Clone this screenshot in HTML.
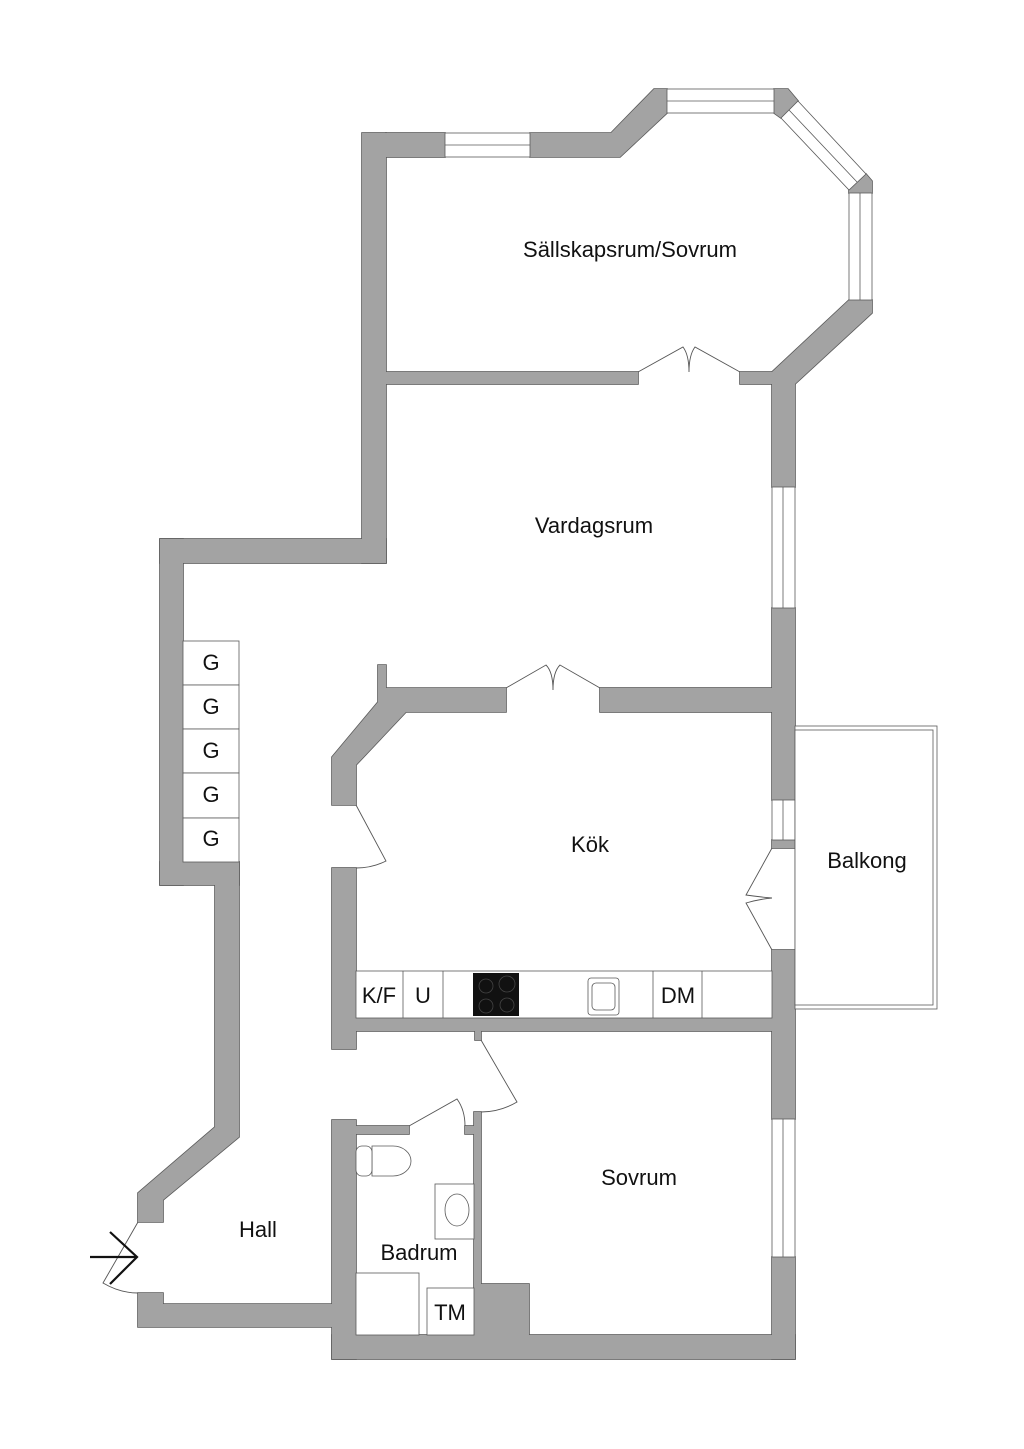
<!DOCTYPE html>
<html><head><meta charset="utf-8"><style>
html,body{margin:0;padding:0;background:#fff;}
svg{display:block;}
text{font-family:"Liberation Sans",sans-serif;fill:#111;}
</style></head><body>
<svg width="1024" height="1449" viewBox="0 0 1024 1449" xmlns="http://www.w3.org/2000/svg">
<defs>
<g id="walls">
<rect x="362" y="133" width="24" height="430"/>
<rect x="386" y="133" width="59" height="24"/>
<polygon points="530,133 611,133 654,89 667,89 667,113 620,157 530,157"/>
<polygon points="774,89 788,89 798,101 781,118 774,113"/>
<polygon points="866,174 872,181 872,193 849,193 849,190"/>
<polygon points="849,300 872,300 872,313 795,384 772,384 772,372"/>
<rect x="386" y="372" width="252" height="12"/>
<rect x="740" y="372" width="32" height="12"/>
<rect x="772" y="384" width="23" height="103"/>
<rect x="772" y="608" width="23" height="192"/>
<rect x="772" y="840" width="23" height="8"/>
<rect x="772" y="950" width="23" height="169"/>
<rect x="772" y="1257" width="23" height="102"/>
<rect x="160" y="539" width="226" height="24"/>
<rect x="160" y="539" width="23" height="346"/>
<rect x="160" y="862" width="79" height="23"/>
<polygon points="215,862 239,862 239,1137 163,1200 163,1222 138,1222 138,1193 215,1127"/>
<polygon points="138,1293 163,1293 163,1304 332,1304 332,1327 138,1327"/>
<rect x="332" y="1120" width="24" height="239"/>
<rect x="332" y="1335" width="463" height="24"/>
<rect x="356" y="1126" width="53" height="8"/>
<rect x="465" y="1126" width="9" height="8"/>
<rect x="474" y="1112" width="7" height="223"/>
<rect x="481" y="1284" width="48" height="51"/>
<rect x="332" y="868" width="24" height="181"/>
<rect x="356" y="1018" width="416" height="13"/>
<rect x="475" y="1031" width="6" height="9"/>
<polygon points="378,665 386,665 386,688 506,688 506,712 406,712 356,765 356,805 332,805 332,757 378,702"/>
<rect x="600" y="688" width="172" height="24"/>
</g>
</defs>
<use href="#walls" fill="#a3a3a3" stroke="#5a5a5a" stroke-width="1.6"/>
<use href="#walls" fill="#a3a3a3" stroke="none"/>
<g fill="#fff" stroke="#5a5a5a" stroke-width="0.8">
<rect x="445" y="133" width="85" height="24"/><line x1="445" y1="145" x2="530" y2="145"/>
<rect x="667" y="89" width="107" height="24"/><line x1="667" y1="101" x2="774" y2="101"/>
<polygon points="798,101 866,174 849,190 781,118"/><line x1="789" y1="110" x2="857" y2="182"/>
<rect x="849" y="193" width="23" height="107"/><line x1="860" y1="193" x2="860" y2="300"/>
<rect x="772" y="487" width="23" height="121"/><line x1="783" y1="487" x2="783" y2="608"/>
<rect x="772" y="800" width="23" height="40"/><line x1="783" y1="800" x2="783" y2="840"/>
<rect x="772" y="1119" width="23" height="138"/><line x1="783" y1="1119" x2="783" y2="1257"/>
<rect x="795" y="726" width="142" height="283"/>
<rect x="795" y="730" width="138" height="275"/>
<rect x="183" y="641" width="56" height="44"/>
<rect x="183" y="685" width="56" height="44"/>
<rect x="183" y="729" width="56" height="44"/>
<rect x="183" y="773" width="56" height="45"/>
<rect x="183" y="818" width="56" height="44"/>
<rect x="356" y="971" width="416" height="47"/>
<line x1="403" y1="971" x2="403" y2="1018"/>
<line x1="443" y1="971" x2="443" y2="1018"/>
<line x1="653" y1="971" x2="653" y2="1018"/>
<line x1="702" y1="971" x2="702" y2="1018"/>
<rect x="435" y="1184" width="39" height="55"/>
<rect x="356" y="1273" width="63" height="62"/>
<rect x="427" y="1288" width="47" height="47"/>
<ellipse cx="457" cy="1210" rx="12" ry="16" />
<path d="M372,1146 L393,1146 A18,15 0 0 1 393,1176 L372,1176 Z"/>
<rect x="356" y="1146" width="16" height="30" rx="6"/>
<rect x="588" y="978" width="31" height="37" rx="3"/>
<rect x="592" y="983" width="23" height="27" rx="4"/>
</g>
<rect x="473" y="973" width="46" height="43" fill="#111"/>
<g fill="none" stroke="#444" stroke-width="0.8">
<circle cx="486" cy="986" r="7"/><circle cx="507" cy="984" r="8"/><circle cx="486" cy="1006" r="7"/><circle cx="507" cy="1005" r="7"/>
</g>
<g fill="none" stroke="#555" stroke-width="0.9">
<path d="M638,372 L683,347 Q689,355 689,372 M740,372 L695,347 Q689,355 689,372"/>
<path d="M506,688 L546,665 Q553,672 553,690 M600,688 L560,665 Q553,672 553,690"/>
<path d="M356,805 L386,861 Q372,868 356,868"/>
<path d="M772,848 L746,895 Q760,897 772,898 M772,950 L746,903 Q760,899 772,898"/>
<path d="M481,1040 L517,1102 Q500,1112 481,1112"/>
<path d="M409,1126 L457,1099 Q465,1110 465,1126"/>
<path d="M138,1222 L103,1283 Q120,1293 138,1293"/>
</g>
<g stroke="#111" stroke-width="2.2" fill="none">
<line x1="90" y1="1257" x2="137" y2="1257"/>
<polyline points="110,1232 137,1257 110,1284"/>
</g>
<g font-size="22" text-anchor="middle">
<text x="630" y="257">Sällskapsrum/Sovrum</text>
<text x="594" y="533">Vardagsrum</text>
<text x="590" y="852">Kök</text>
<text x="867" y="868">Balkong</text>
<text x="639" y="1185">Sovrum</text>
<text x="258" y="1237">Hall</text>
<text x="419" y="1260">Badrum</text>
<text x="379" y="1003">K/F</text>
<text x="423" y="1003">U</text>
<text x="678" y="1003">DM</text>
<text x="450" y="1320">TM</text>
<text x="211" y="670">G</text>
<text x="211" y="714">G</text>
<text x="211" y="758">G</text>
<text x="211" y="802">G</text>
<text x="211" y="846">G</text>
</g>
</svg>
</body></html>
